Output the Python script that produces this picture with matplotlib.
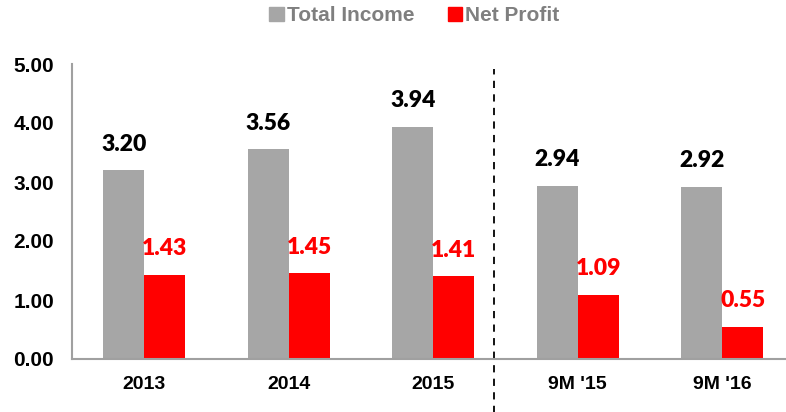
import matplotlib.pyplot as plt
from matplotlib.patches import Patch
import numpy as np

categories = ["2013", "2014", "2015", "9M '15", "9M '16"]
total_income = [3.20, 3.56, 3.94, 2.94, 2.92]
net_profit = [1.43, 1.45, 1.41, 1.09, 0.55]
y_ticks = [0, 1, 2, 3, 4, 5]

gray = "#A6A6A6"
red = "#FF0000"

fig = plt.figure(figsize=(7.86, 4.12), dpi=100)
ax = fig.add_axes([72 / 786, 53 / 412, 722.5 / 786, 295 / 412])

x = np.arange(len(categories))
w = 0.284
b1 = ax.bar(x - w / 2, total_income, w, color=gray)
b2 = ax.bar(x + w / 2, net_profit, w, color=red)

for bar, v in zip(b1, total_income):
    ax.annotate(f"{v:.2f}", (bar.get_x() + bar.get_width() / 2, v), xytext=(0, 11),
                textcoords="offset points", ha="center", va="bottom",
                fontsize=16.5, fontweight="heavy", family="Lato", color="black")
for bar, v in zip(b2, net_profit):
    ax.annotate(f"{v:.2f}", (bar.get_x() + bar.get_width() / 2, v), xytext=(0, 11),
                textcoords="offset points", ha="center", va="bottom",
                fontsize=16.5, fontweight="heavy", family="Lato", color=red)

# dashed separator between full years and 9M
ax.plot([2.42, 2.42], [-0.92, 4.92], ls=(0, (4, 3.5)), color="black", lw=1.3, clip_on=False)

ax.set_xlim(-0.5, 4.5)
ax.set_ylim(0, 5)
ax.set_xticks(x)
ax.set_xticklabels(categories)
ax.set_yticks(y_ticks)
ax.set_yticklabels([f"{t:.2f}" for t in y_ticks])
for lab in ax.get_xticklabels():
    lab.set_fontfamily("Liberation Sans")
    lab.set_fontweight("bold")
    lab.set_fontsize(14)
for lab in ax.get_yticklabels():
    lab.set_fontfamily("Liberation Sans")
    lab.set_fontweight("bold")
    lab.set_fontsize(15)
ax.tick_params(axis="both", length=0)
ax.tick_params(axis="y", pad=13)
ax.tick_params(axis="x", pad=12)

for s in ["top", "right"]:
    ax.spines[s].set_visible(False)
for s in ["left", "bottom"]:
    ax.spines[s].set_color("#A0A0A0")
    ax.spines[s].set_linewidth(1.5)

handles = [Patch(color=gray), Patch(color=red)]
leg = fig.legend(handles, ["Total Income", "Net Profit"], loc="upper center",
                 bbox_to_anchor=(0.527, 1.03), ncol=2, frameon=False,
                 handlelength=0.7, handleheight=0.7, handletextpad=0.15, columnspacing=1.6,
                 fontsize=15)
for t in leg.get_texts():
    t.set_fontfamily("Liberation Sans")
    t.set_fontweight("bold")
    t.set_color("#7F7F7F")

fig.savefig("out.png", dpi=100)
